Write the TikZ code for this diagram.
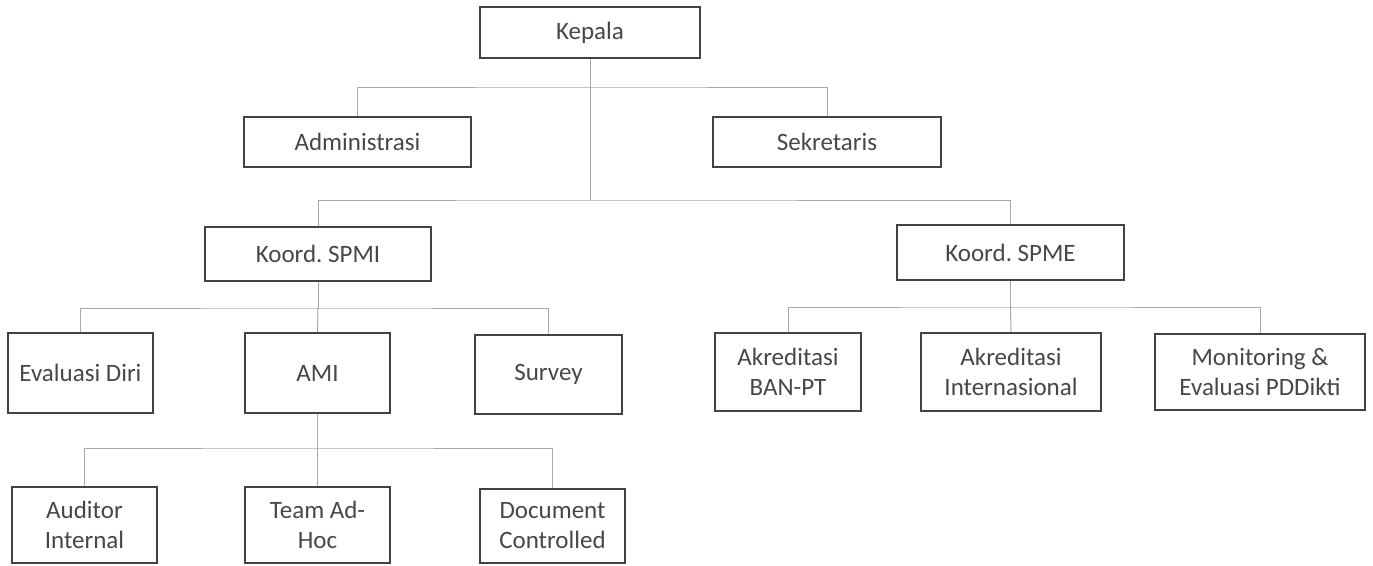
\documentclass[tikz,border=0pt]{standalone}
\usepackage{fontspec}
\setmainfont{Carlito}
\frenchspacing
\definecolor{boxline}{HTML}{424242}
\definecolor{txt}{HTML}{474747}
\definecolor{conline}{HTML}{A8A8A8}
\begin{document}
\begin{tikzpicture}[x=1pt,y=-1pt,
  box/.style={draw=boxline, line width=2pt, rectangle, inner sep=0pt, align=center,
    text=txt, font=\fontsize{25}{30}\selectfont},
  conn/.style={draw=conline, line width=1pt}]
\useasboundingbox (0,0) rectangle (1373,565);
\fill[white] (0,0) rectangle (1373,565);
% nodes
\node[box, minimum width=220pt, minimum height=51pt] (kep) at (590,32.5) {Kepala};
\node[box, minimum width=227pt, minimum height=50pt] (adm) at (357.5,142) {Administrasi};
\node[box, minimum width=228pt, minimum height=50pt] (sek) at (827,142) {Sekretaris};
\node[box, minimum width=226pt, minimum height=54pt] (spmi) at (318,253.5) {Koord. SPMI};
\node[box, minimum width=227pt, minimum height=55pt] (spme) at (1010.5,252.5) {Koord. SPME};
\node[box, minimum width=145pt, minimum height=80pt] (evd) at (80.5,373) {Evaluasi Diri};
\node[box, minimum width=145pt, minimum height=80pt] (ami) at (317.5,373) {AMI};
\node[box, minimum width=147pt, minimum height=79pt] (svy) at (548.5,374.5) {Survey};
\node[box, minimum width=145pt, minimum height=76pt] (aud) at (84.5,525) {Auditor\\Internal};
\node[box, minimum width=145pt, minimum height=76pt] (team) at (317.5,525) {Team Ad-\\Hoc};
\node[box, minimum width=145pt, minimum height=74pt] (doc) at (552.5,526) {Document\\Controlled};
\node[box, minimum width=146pt, minimum height=78pt] (ban) at (788,372) {Akreditasi\\BAN-PT};
\node[box, minimum width=180pt, minimum height=78pt] (intl) at (1011,372) {Akreditasi\\Internasional};
\node[box, minimum width=210pt, minimum height=76pt] (mon) at (1260,372) {Monitoring \&\\Evaluasi PDDikti};
% junctions
\coordinate (j1) at (590,87);
\coordinate (j2) at (590,200);
\coordinate (j3) at (318,308);
\coordinate (j4) at (317.5,448);
\coordinate (j5) at (1010.5,307);
% connectors
\draw[conn] (kep.south) -- (j2);
\draw[conn] (adm.north) |- (j1) -| (sek.north);
\draw[conn] (spmi.north) |- (j2) -| (spme.north);
\draw[conn] (spmi.south) -- (j3);
\draw[conn] (evd.north) |- (j3) -| (svy.north);
\draw[conn] (j3) -- (ami.north);
\draw[conn] (ami.south) -- (j4);
\draw[conn] (aud.north) |- (j4) -| (doc.north);
\draw[conn] (j4) -- (team.north);
\draw[conn] (spme.south) -- (j5);
\draw[conn] (ban.north) |- (j5) -| (mon.north);
\draw[conn] (j5) -- (intl.north);
\end{tikzpicture}
\end{document}
